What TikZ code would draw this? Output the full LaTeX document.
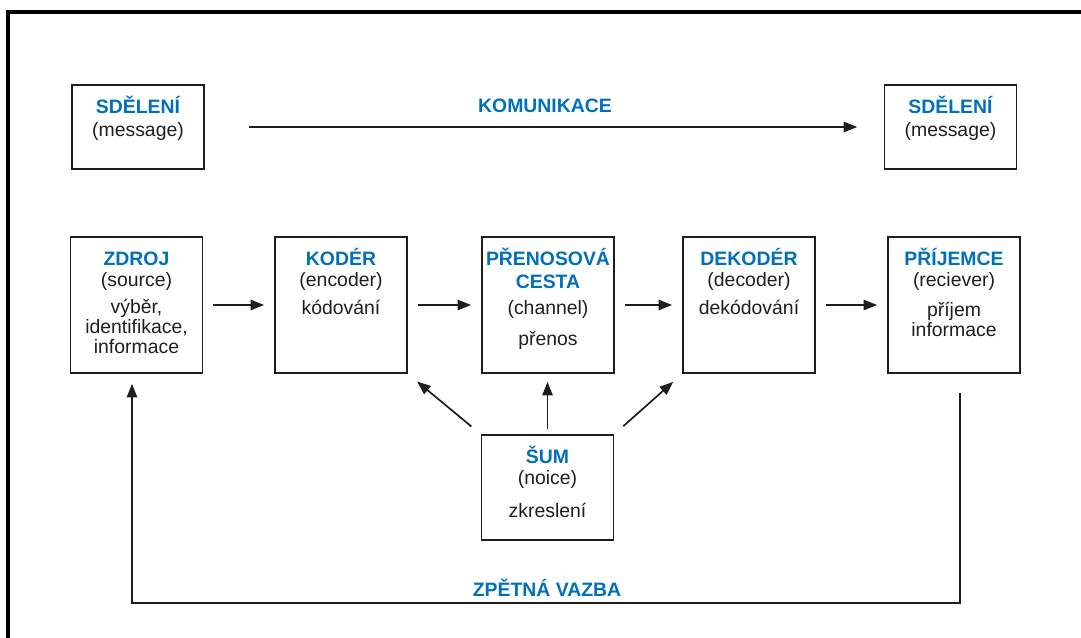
\documentclass[tikz,border=0pt]{standalone}
\usepackage{fontspec}
\setmainfont{Liberation Sans}
\usetikzlibrary{arrows.meta}

\definecolor{headblue}{RGB}{0,112,186}
\definecolor{inkgray}{RGB}{30,30,30}

\tikzset{
    box/.style={draw=inkgray, line width=1.2pt, minimum width=3.3cm},
    txt/.style={below, inner sep=0pt, align=center, text=inkgray,
        font=\fontsize{13.8}{14.2}\selectfont},
    lab/.style={anchor=base, inner sep=0pt, text=headblue,
        font=\fontsize{13.8}{14.2}\selectfont\bfseries},
    arr/.style={draw=inkgray, line width=1.2pt, shorten <=0.25cm, shorten >=0.25cm,
        -{Triangle[length=0.34cm,width=0.26cm]}}
}
\newcommand{\hd}[1]{{\color{headblue}\bfseries\vphantom{Ě}#1}}

\begin{document}
\begin{tikzpicture}[x=0.025cm, y=-0.025cm]
        \useasboundingbox (0,0) rectangle (1081,638);
        \draw[line width=2.4pt] (8,700) -- (8,12) -- (1120,12);

        \node[box, minimum height=2.1cm] (M1) at (138,127) {};
        \node[txt, yshift=-0.3cm] (T1) at (M1.north) {\hd{SDĚLENÍ}\\[0.08cm](message)};
        \node[box, minimum height=2.1cm] (M2) at (950.5,127) {};
        \node[txt, yshift=-0.3cm] (T2) at (M2.north) {\hd{SDĚLENÍ}\\[0.08cm](message)};

        \node[box, minimum height=3.4cm] (B1) at (136.5,305) {};
        \node[txt, yshift=-0.28cm] (T3) at (B1.north) {\hd{ZDROJ}\\[0.05cm](source)\\[0.17cm]výběr,\\identifikace,\\informace};
        \node[box, minimum height=3.4cm] (B2) at (341,305) {};
        \node[txt, yshift=-0.28cm] (T4) at (B2.north) {\hd{KODÉR}\\[0.05cm](encoder)\\[0.2cm]kódování};
        \node[box, minimum height=3.4cm] (B3) at (548,305) {};
        \node[txt, yshift=-0.28cm] (T5) at (B3.north) {\hd{PŘENOSOVÁ}\\[0.1cm]\hd{CESTA}\\[0.15cm](channel)\\[0.27cm]přenos};
        \node[box, minimum height=3.4cm] (B4) at (749,305) {};
        \node[txt, yshift=-0.28cm] (T6) at (B4.north) {\hd{DEKODÉR}\\[0.05cm](decoder)\\[0.2cm]dekódování};
        \node[box, minimum height=3.4cm] (B5) at (954,305) {};
        \node[txt, yshift=-0.28cm] (T7) at (B5.north) {\hd{PŘÍJEMCE}\\[0.05cm](reciever)\\[0.25cm]příjem\\informace};

        \node[box, minimum height=2.625cm] (N1) at (547.5,487.5) {};
        \node[txt, yshift=-0.28cm] (T8) at (N1.north) {\hd{ŠUM}\\[0.05cm](noice)\\[0.325cm]zkreslení};

        \node[lab] (L1) at (545,112) {KOMUNIKACE};
        \node[lab] (L2) at (547,596) {ZPĚTNÁ VAZBA};

        \coordinate (F0) at (960,393);
        \coordinate (F1) at (132,603);

        \draw[arr, shorten <=1.1cm, shorten >=0.66cm] (M1) -- (M2);
        \draw[arr] (B1) -- (B2);
        \draw[arr] (B2) -- (B3);
        \draw[arr] (B3) -- (B4);
        \draw[arr] (B4) -- (B5);
        \draw[arr, shorten <=0.3cm, shorten >=0.3cm] (N1.north west) -- (B2.south east);
        \draw[arr, shorten <=0.125cm, shorten >=0.2cm] (N1.north) -- (N1.north |- B3.south);
        \draw[arr, shorten <=0.3cm, shorten >=0.3cm] (N1.north east) -- (B4.south west);
        \draw[arr, shorten <=0pt] (F0) |- (F1) -- (F1 |- B1.south);
    \end{tikzpicture}
\end{document}
